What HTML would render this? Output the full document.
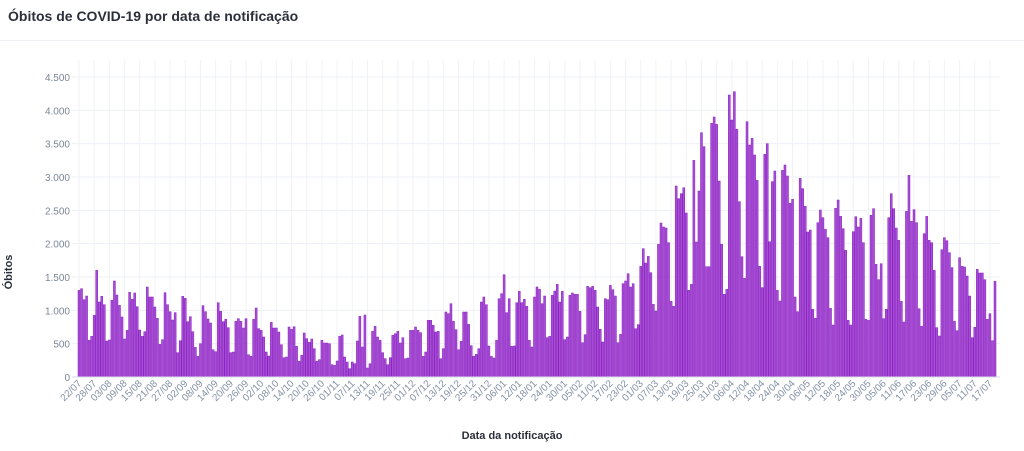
<!DOCTYPE html>
<html><head><meta charset="utf-8"><style>
body{margin:0;background:#fff;font-family:"Liberation Sans",sans-serif}
#wrap{position:relative;width:1024px;height:451px;overflow:hidden}
#title{position:absolute;left:8px;top:8px;font-size:14px;font-weight:bold;color:#2a2f3a}
#sep{position:absolute;left:0;top:40px;width:1024px;height:1px;background:#eef0f4}
</style></head><body>
<div id="wrap">
<div id="title">Óbitos de COVID-19 por data de notificação</div>
<div id="sep"></div>
<svg id="chart" width="1024" height="451" style="position:absolute;left:0;top:0"></svg>
</div>
<script>
const deaths = [1300,1325,1160,1215,550,610,925,1600,1125,1210,1085,540,555,1150,1440,1230,1075,900,570,700,1270,1165,1260,1055,705,610,680,1350,1200,1200,1050,880,490,560,1265,1085,980,855,965,365,545,1210,1180,830,905,680,445,310,500,1070,980,870,810,410,380,1115,985,830,
865,740,365,375,835,875,835,735,875,335,310,865,1035,725,700,600,375,315,820,735,735,675,485,290,300,750,715,755,460,235,325,660,575,520,570,425,235,260,550,510,510,500,185,175,240,610,630,300,225,125,225,200,540,910,450,930,135,200,685,760,600,550,365,275,185,
290,625,650,685,510,590,275,285,700,700,750,700,665,310,375,850,850,775,675,685,275,425,975,950,1100,835,710,410,535,975,975,790,470,310,340,425,1125,1200,1085,465,310,285,550,1175,1250,1535,965,1175,460,465,1115,1285,1115,1165,1060,550,450,1200,1350,1315,1100,1215,590,610,
1225,1290,1390,1125,1285,560,600,1225,1260,1240,1240,985,515,635,1360,1340,1360,1300,1050,715,525,1175,1160,1375,1310,1215,515,640,1400,1440,1550,1350,1400,725,785,1660,1925,1710,1810,1565,1090,990,1990,2310,2250,2235,2015,1135,1060,2865,2675,2750,2840,2460,1300,1390,
3250,2025,
2790,3665,3455,1655,1655,3805,3900,3790,2940,1990,1240,1315,4230,3855,4280,3715,2630,1805,1480,3830,3480,3580,3330,2950,1660,1340,3340,3500,2030,2930,3090,1300,1140,3100,3180,3015,2605,2665,1200,980,2980,2825,2560,2175,2205,1015,880,2315,2505,2390,2215,2090,1030,780,2530,2655,2410,2225,1900,850,780,2180,2405,2250,2380,2015,865,850,
2425,2525,1690,1460,1700,875,1015,2390,2750,2525,2235,2050,1135,825,2485,3025,2335,2510,2315,1025,760,2150,2410,2050,2015,1600,740,615,1910,2090,2045,1865,1640,835,695,1790,1660,1650,1515,1215,590,745,1615,1560,1560,1460,865,950,545,1435];
const xTickLabels = ["22/07","28/07","03/08","09/08","15/08","21/08","27/08","02/09","08/09","14/09","20/09","26/09","02/10","08/10","14/10","20/10","26/10","01/11","07/11","13/11","19/11","25/11","01/12","07/12","13/12","19/12","25/12","31/12","06/01","12/01","18/01","24/01","30/01","05/02","11/02","17/02","23/02","01/03","07/03","13/03","19/03","25/03","31/03","06/04","12/04","18/04","24/04","30/04","06/05","12/05","18/05","24/05","30/05","05/06","11/06","17/06","23/06","29/06","05/07","11/07","17/07"];
const xTickEvery = 6;
const yTicks = [0,500,1000,1500,2000,2500,3000,3500,4000,4500];
const yTickLabels = ["0","500","1.000","1.500","2.000","2.500","3.000","3.500","4.000","4.500"];

const svg = document.getElementById('chart');
const NS = 'http://www.w3.org/2000/svg';
const X0 = 79, X1 = 995, Y0 = 377, YMAX = 4500, YTOP = 77;
const step = (X1 - X0) / (deaths.length - 1);
function x(i){ return X0 + i * step; }
function y(v){ return Y0 - v / YMAX * (Y0 - YTOP); }
function mk(tag, attrs){ const e = document.createElementNS(NS, tag); for (const k in attrs) e.setAttribute(k, attrs[k]); svg.appendChild(e); return e; }

yTicks.forEach((v, k) => {
  const g = mk('line', {x1: 72, x2: 1000, y1: y(v), y2: y(v), stroke: '#edf0f5', 'stroke-width': 1});
  
  
  const t = mk('text', {x: 70, y: y(v) + 4, 'text-anchor': 'end', 'font-size': 10, fill: '#7b8597'});
  t.textContent = yTickLabels[k];
  
  
});
xTickLabels.forEach((lab, k) => {
  const xi = x(k * xTickEvery);
  const g = mk('line', {x1: xi, x2: xi, y1: 60, y2: Y0, stroke: '#f0f2f6', 'stroke-width': 1});
  
  
  const t = mk('text', {x: xi + 3, y: 384, 'text-anchor': 'end', 'font-size': 10, fill: '#8591a6', transform: 'rotate(-45 ' + (xi + 3) + ' 384)'});
  t.textContent = lab;
  
  
});
deaths.forEach((v, i) => {
  const b = mk('rect', {x: x(i) - 1, y: y(v), width: 2, height: Y0 - y(v), fill: '#a64fd3', stroke: '#8b1fc4', 'stroke-width': 0.5});
  
  
});
const ax = mk('line', {x1: 72, x2: 1000, y1: Y0, y2: Y0, stroke: '#d6dbe3', 'stroke-width': 1});


const xt = mk('text', {x: 512, y: 439, 'text-anchor': 'middle', 'font-size': 11, 'font-weight': 'bold', fill: '#2a2f3a'});
xt.textContent = 'Data da notificação';


const yt = mk('text', {x: 12, y: 272, 'text-anchor': 'middle', 'font-size': 11, 'font-weight': 'bold', fill: '#2a2f3a', transform: 'rotate(-90 12 272)'});
yt.textContent = 'Óbitos';


</script>
</body></html>
